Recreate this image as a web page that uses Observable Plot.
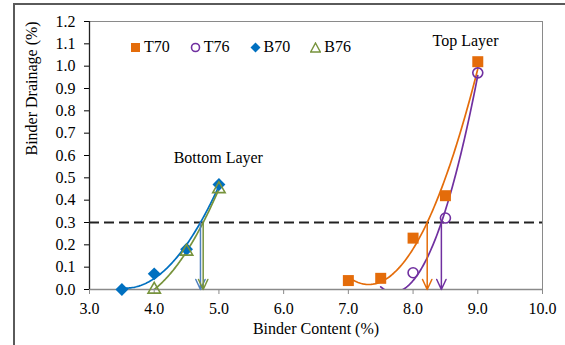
<!DOCTYPE html>
<html>
<head>
<meta charset="utf-8">
<script src="https://cdn.jsdelivr.net/npm/d3@7"></script>
<script src="https://cdn.jsdelivr.net/npm/@observablehq/plot@0.6"></script>
<style>
  body { margin: 0; background: #fff; font-family: "Liberation Serif", "Times New Roman", serif; }
  #wrap { position: relative; width: 565px; height: 345px; overflow: hidden; }
  #border { position: absolute; left: 13px; top: 3px; right: -5px; bottom: -5px;
            border-top: 2px solid #5a5a5a; border-left: 2px solid #5a5a5a; pointer-events: none; }
  #legend { position: absolute; left: 130px; top: 38px; display: flex; align-items: center;
            font-size: 16px; color: #000; }
  .item { display: flex; align-items: center; margin-right: 20px; }
  .item svg { margin-right: 3px; }
  #chart svg text { font-family: "Liberation Serif", "Times New Roman", serif; }
</style>
</head>
<body>
<div id="wrap">
  <div id="chart"></div>
  <div id="legend"></div>
  <div id="border"></div>
</div>
<script>
// ---- data ----
const seriesNames = ["T70", "T76", "B70", "B76"];
const seriesColors = ["#E46C0A", "#7030A0", "#0070C0", "#77933C"];
const arrowColors  = ["#E46C0A", "#7030A0", "#4F81BD", "#77933C"];

const t70X = [7.0, 7.5, 8.0, 8.5, 9.0];
const t70Y = [0.04, 0.05, 0.23, 0.42, 1.02];
const t76X = [7.5, 8.0, 8.5, 9.0];
const t76Y = [0.00, 0.075, 0.32, 0.97];   // the 0.00 point has no visible marker
const b70X = [3.5, 4.0, 4.5, 5.0];
const b70Y = [0.00, 0.07, 0.18, 0.47];
const b76X = [4.0, 4.5, 5.0];
const b76Y = [0.00, 0.17, 0.45];

const threshold = 0.3;
const xTicks = [3, 4, 5, 6, 7, 8, 9, 10];
const yTicks = [0, 0.1, 0.2, 0.3, 0.4, 0.5, 0.6, 0.7, 0.8, 0.9, 1.0, 1.1, 1.2];

const annotations = [
  {x: 8.81, y: 1.115, text: "Top Layer"},
  {x: 4.99, y: 0.59, text: "Bottom Layer"}
];

// ---- derived ----
const rawSeries = [[t70X, t70Y], [t76X, t76Y], [b70X, b70Y], [b76X, b76Y]];
const points = [];
rawSeries.forEach(([xs, ys], i) => xs.forEach((x, j) => {
  if (!(i === 1 && ys[j] === 0)) points.push({series: seriesNames[i], x, y: ys[j]});
}));

// least-squares quadratic trendline (as Excel's polynomial order 2)
function quadFit(xs, ys) {
  const n = xs.length;
  let s = [0,0,0,0,0], t = [0,0,0];
  for (let k = 0; k < n; k++) {
    const x = xs[k], y = ys[k];
    for (let p = 0; p <= 4; p++) s[p] += x ** p;
    for (let p = 0; p <= 2; p++) t[p] += y * x ** p;
  }
  const A = [[s[0], s[1], s[2], t[0]], [s[1], s[2], s[3], t[1]], [s[2], s[3], s[4], t[2]]];
  for (let c = 0; c < 3; c++) {
    let piv = c;
    for (let r = c + 1; r < 3; r++) if (Math.abs(A[r][c]) > Math.abs(A[piv][c])) piv = r;
    [A[c], A[piv]] = [A[piv], A[c]];
    for (let r = 0; r < 3; r++) if (r !== c) {
      const f = A[r][c] / A[c][c];
      for (let k = c; k < 4; k++) A[r][k] -= f * A[c][k];
    }
  }
  return [A[0][3] / A[0][0], A[1][3] / A[1][1], A[2][3] / A[2][2]];
}

const curves = [];
const arrows = [];
rawSeries.forEach(([xs, ys], i) => {
  const [c0, c1, c2] = quadFit(xs, ys);
  const x0 = d3.min(xs), x1 = d3.max(xs);
  for (let k = 0; k <= 80; k++) {
    const x = x0 + (x1 - x0) * k / 80;
    curves.push({series: seriesNames[i], x, y: c0 + c1 * x + c2 * x * x});
  }
  const disc = c1 * c1 - 4 * c2 * (c0 - threshold);
  const xc = (-c1 + Math.sqrt(disc)) / (2 * c2);
  arrows.push({series: seriesNames[i], x: xc, color: arrowColors[i]});
});

const serif = "'Liberation Serif', 'Times New Roman', serif";

const marks = [
  Plot.frame({stroke: "#8a8a8a"}),
  Plot.axisX({ticks: xTicks, tickFormat: d => d.toFixed(1), tickSize: 5, tickPadding: 8, stroke: "#8a8a8a", fill: "#000", fontFamily: serif, fontSize: 16, label: null}),
  Plot.axisY({ticks: yTicks, tickFormat: d => d.toFixed(1), tickSize: 5, tickPadding: 9, fill: "#000", fontFamily: serif, fontSize: 16, label: null}),
  Plot.ruleY([0], {stroke: "#8a8a8a", strokeWidth: 1.5}),
  Plot.ruleX([3], {stroke: "#222", strokeWidth: 1.3}),
  Plot.ruleY([threshold], {stroke: "#222", strokeWidth: 2, strokeDasharray: "10,5"}),
  Plot.line(curves, {x: "x", y: "y", z: "series", stroke: d => seriesColors[seriesNames.indexOf(d.series)], strokeWidth: 1.7, clip: true}),
  Plot.arrow(arrows, {x1: "x", x2: "x", y1: () => threshold, y2: () => 0, stroke: "color", strokeWidth: 1.5, headLength: 11, headAngle: 50}),
  // markers
  Plot.dot(points.filter(d => d.series === "T70"), {x: "x", y: "y", symbol: "square", r: 6.2, fill: seriesColors[0], stroke: "none"}),
  Plot.dot(points.filter(d => d.series === "T76"), {x: "x", y: "y", symbol: "circle", r: 5, fill: "none", stroke: seriesColors[1], strokeWidth: 1.6}),
  Plot.dot(points.filter(d => d.series === "B70"), {x: "x", y: "y", symbol: "diamond2", r: 5.8, fill: seriesColors[2], stroke: "none"}),
  Plot.dot(points.filter(d => d.series === "B76"), {x: "x", y: "y", symbol: "triangle", r: 4.6, fill: "none", stroke: seriesColors[3], strokeWidth: 1.6}),
  Plot.text(annotations, {x: "x", y: "y", text: "text", fontSize: 16, fontFamily: serif, fill: "#000"}),
  Plot.text(["Binder Drainage (%)"], {frameAnchor: "left", rotate: -90, dx: -58, fontSize: 16, fontFamily: serif, fill: "#000"}),
  Plot.text(["Binder Content (%)"], {frameAnchor: "bottom", dy: 44, fontSize: 16, fontFamily: serif, fill: "#000"})
];

const chart = Plot.plot({
  width: 565,
  height: 345,
  marginLeft: 89,
  marginRight: 23,
  marginTop: 21,
  marginBottom: 56,
  style: {fontFamily: serif, fontSize: "16px", color: "#000", background: "transparent", overflow: "visible"},
  x: {domain: [3, 10]},
  y: {domain: [0, 1.2]},
  marks
});
document.getElementById("chart").appendChild(chart);

// legend
const legendSymbols = {
  T70: `<rect x="1" y="1" width="9" height="9" fill="${seriesColors[0]}"/>`,
  T76: `<circle cx="5.5" cy="5.5" r="4" fill="none" stroke="${seriesColors[1]}" stroke-width="1.6"/>`,
  B70: `<path d="M5.5,0.5 L10.5,5.5 L5.5,10.5 L0.5,5.5Z" fill="${seriesColors[2]}"/>`,
  B76: `<path d="M5.5,1 L10.3,10 L0.7,10Z" fill="none" stroke="${seriesColors[3]}" stroke-width="1.4"/>`
};
const legend = document.getElementById("legend");
seriesNames.forEach(name => {
  const item = document.createElement("div");
  item.className = "item";
  item.innerHTML = `<svg width="11" height="11">${legendSymbols[name]}</svg><span>${name}</span>`;
  legend.appendChild(item);
});
</script>
</body>
</html>
